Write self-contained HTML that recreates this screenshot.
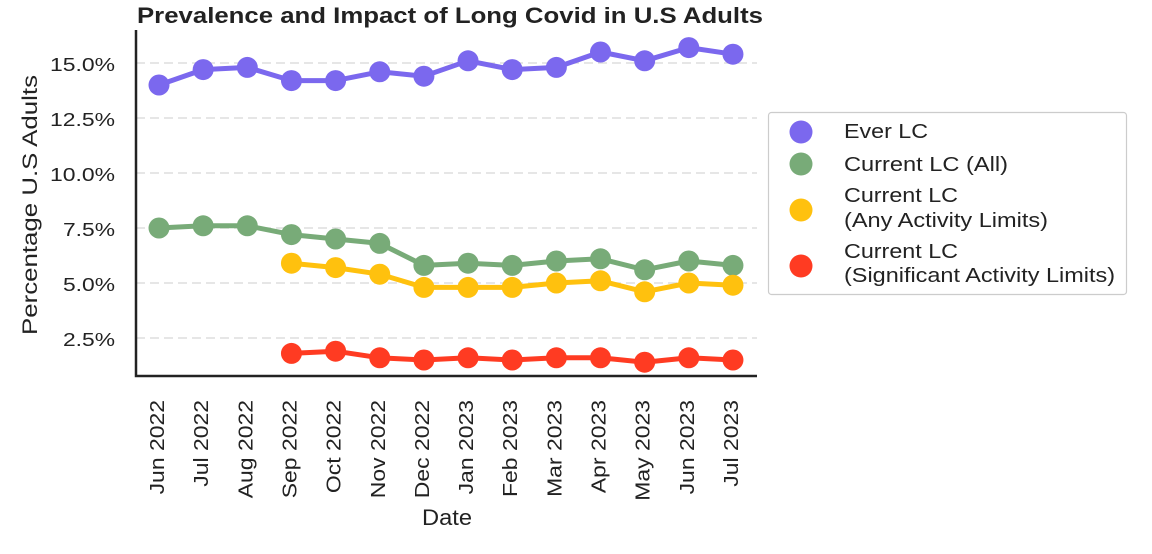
<!DOCTYPE html>
<html><head><meta charset="utf-8"><style>
html,body{margin:0;padding:0;background:#fff;}
svg{display:block;font-family:"Liberation Sans",Arial,sans-serif;}
</style></head><body>
<svg width="1152" height="554" viewBox="0 0 1152 554" xmlns="http://www.w3.org/2000/svg">
<rect width="1152" height="554" fill="#fff"/>
<text x="137" y="23" font-size="22" font-weight="bold" fill="#222" textLength="626" lengthAdjust="spacingAndGlyphs">Prevalence and Impact of Long Covid in U.S Adults</text>
<g stroke="#dddddd" stroke-width="1.5" stroke-dasharray="9,5">
<line x1="136" x2="757" y1="63" y2="63"/>
<line x1="136" x2="757" y1="118" y2="118"/>
<line x1="136" x2="757" y1="173" y2="173"/>
<line x1="136" x2="757" y1="228" y2="228"/>
<line x1="136" x2="757" y1="283" y2="283"/>
<line x1="136" x2="757" y1="338" y2="338"/>
</g>
<path d="M136 30 V376 H757" fill="none" stroke="#222" stroke-width="2.5"/>
<g font-size="18.5" fill="#222">
<text x="50" y="71" textLength="65" lengthAdjust="spacingAndGlyphs">15.0%</text>
<text x="50" y="126" textLength="65" lengthAdjust="spacingAndGlyphs">12.5%</text>
<text x="50" y="181" textLength="65" lengthAdjust="spacingAndGlyphs">10.0%</text>
<text x="63" y="236" textLength="52" lengthAdjust="spacingAndGlyphs">7.5%</text>
<text x="63" y="291" textLength="52" lengthAdjust="spacingAndGlyphs">5.0%</text>
<text x="63" y="346" textLength="52" lengthAdjust="spacingAndGlyphs">2.5%</text>
</g>
<text transform="translate(37,335) rotate(-90)" font-size="21" fill="#222" textLength="260" lengthAdjust="spacingAndGlyphs">Percentage U.S Adults</text>
<text x="422" y="525" font-size="22" fill="#222" textLength="50" lengthAdjust="spacingAndGlyphs">Date</text>
<g id="xl" font-size="20.5" fill="#222"></g>
<g id="series"></g>
<rect x="768.5" y="112.5" width="358" height="182" rx="3" fill="#fff" stroke="#ccc" stroke-width="1.2"/>
<circle cx="801" cy="132" r="11.5" fill="#7b68ee"/>
<circle cx="801" cy="164" r="11.5" fill="#78ab78"/>
<circle cx="801" cy="210" r="11.5" fill="#ffc10e"/>
<circle cx="801" cy="266" r="11.5" fill="#ff3b22"/>
<g font-size="20" fill="#222">
<text x="844" y="138" textLength="84" lengthAdjust="spacingAndGlyphs">Ever LC</text>
<text x="844" y="171" textLength="164" lengthAdjust="spacingAndGlyphs">Current LC (All)</text>
<text x="844" y="202" textLength="114" lengthAdjust="spacingAndGlyphs">Current LC</text>
<text x="844" y="227" textLength="204" lengthAdjust="spacingAndGlyphs">(Any Activity Limits)</text>
<text x="844" y="258" textLength="114" lengthAdjust="spacingAndGlyphs">Current LC</text>
<text x="844" y="282" textLength="271" lengthAdjust="spacingAndGlyphs">(Significant Activity Limits)</text>
</g>
<script>
const ns="http://www.w3.org/2000/svg";
const months=["Jun 2022","Jul 2022","Aug 2022","Sep 2022","Oct 2022","Nov 2022","Dec 2022","Jan 2023","Feb 2023","Mar 2023","Apr 2023","May 2023","Jun 2023","Jul 2023"];
const X=i=>159+i*44.15, Y=v=>338-(v-2.5)*22;
const xl=document.getElementById("xl");
months.forEach((m,i)=>{const t=document.createElementNS(ns,"text");t.setAttribute("transform",`translate(${X(i)+5},400) rotate(-90) scale(1.12,1)`);t.setAttribute("text-anchor","end");t.textContent=m;xl.appendChild(t);});
const S=[
["#7b68ee",0,[14.0,14.7,14.8,14.2,14.2,14.6,14.4,15.1,14.7,14.8,15.5,15.1,15.7,15.4]],
["#78ab78",0,[7.5,7.6,7.6,7.2,7.0,6.8,5.8,5.9,5.8,6.0,6.1,5.6,6.0,5.8]],
["#ffc10e",3,[5.9,5.7,5.4,4.8,4.8,4.8,5.0,5.1,4.6,5.0,4.9]],
["#ff3b22",3,[1.8,1.9,1.6,1.5,1.6,1.5,1.6,1.6,1.4,1.6,1.5]]];
const g=document.getElementById("series");
S.forEach(([c,o,d])=>{const pts=d.map((v,i)=>[X(i+o),Y(v)]);
const p=document.createElementNS(ns,"polyline");p.setAttribute("points",pts.map(q=>q.join(",")).join(" "));p.setAttribute("fill","none");p.setAttribute("stroke",c);p.setAttribute("stroke-width","5");p.setAttribute("stroke-linejoin","round");g.appendChild(p);
pts.forEach(q=>{const e=document.createElementNS(ns,"circle");e.setAttribute("cx",q[0]);e.setAttribute("cy",q[1]);e.setAttribute("r","10.5");e.setAttribute("fill",c);g.appendChild(e);});});
</script>
</svg>
</body></html>
